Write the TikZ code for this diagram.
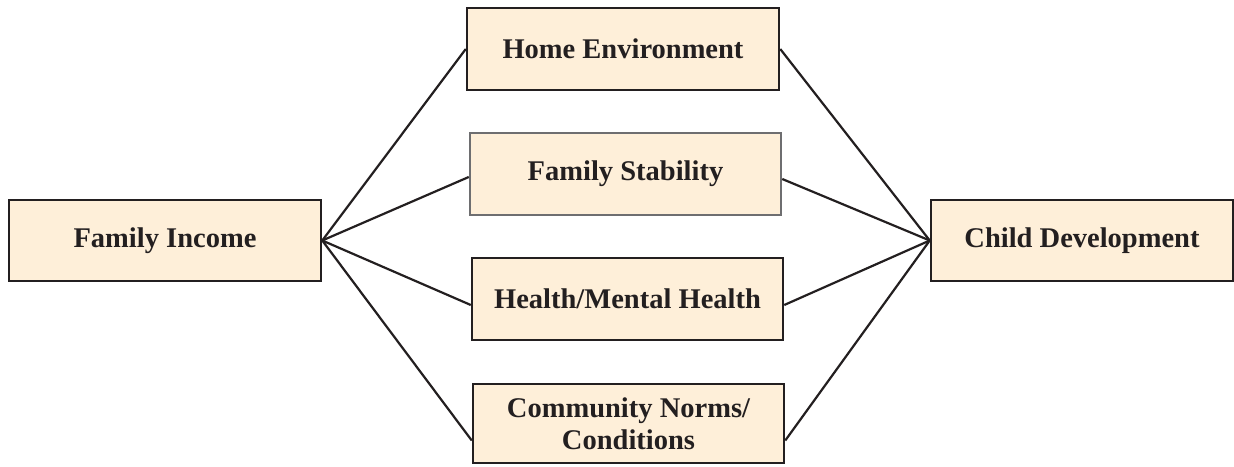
\documentclass[tikz,border=0pt]{standalone}
\usepackage{fontspec}
\setmainfont{Liberation Serif}
\definecolor{boxfill}{RGB}{254,239,217}
\definecolor{boxline}{RGB}{35,31,32}
\definecolor{grayline}{RGB}{110,110,112}
\begin{document}
\begin{tikzpicture}[x=1pt,y=-1pt,
  box/.style={draw=boxline, line width=2.5pt, fill=boxfill, inner sep=0pt,
    minimum width=311pt, minimum height=82pt, align=center,
    font=\fontsize{28.5}{32}\selectfont\bfseries, text=boxline},
  link/.style={draw=boxline, line width=2.2pt}]
\useasboundingbox (0,0) rectangle (1234,466);
\node[box, minimum width=312pt, minimum height=81pt] (inc) at (165,240.5) {Family Income};
\node[box, minimum width=312pt] (home) at (623,49) {Home Environment};
\node[box, draw=grayline] (stab) at (625.5,174) {Family Stability};
\node[box] (hlth) at (627.5,299) {Health/Mental Health};
\node[box, minimum height=79pt] (comm) at (628.5,423.5) {Community Norms/\\Conditions};
\node[box, minimum width=302pt, minimum height=81pt] (child) at (1082,240.5) {Child Development};
\draw[link] (inc.east) -- (home.west);
\draw[link] (inc.east) -- ([yshift=-3pt]stab.west);
\draw[link] (inc.east) -- ([yshift=-6pt]hlth.west);
\draw[link] (inc.east) -- ([yshift=-17pt]comm.west);
\draw[link] (child.west) -- (home.east);
\draw[link] (child.west) -- ([yshift=-5pt]stab.east);
\draw[link] (child.west) -- ([yshift=-6pt]hlth.east);
\draw[link] (child.west) -- ([yshift=-17pt]comm.east);
\end{tikzpicture}
\end{document}
